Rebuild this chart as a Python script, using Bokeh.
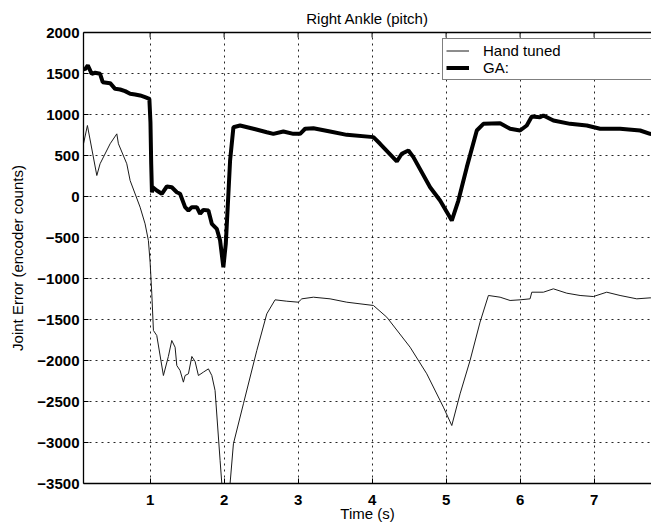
from bokeh.plotting import figure
from bokeh.models import Range1d, FixedTicker, LinearAxis, Legend, LegendItem
from bokeh.embed import file_html
from bokeh.resources import INLINE

# ---- data ----
ga_time = [0.10, 0.12, 0.158, 0.212, 0.257, 0.324, 0.36, 0.46, 0.527, 0.595, 0.662, 0.73, 0.797, 0.865,
           0.932, 0.99, 1.005, 1.015, 1.025, 1.036, 1.09, 1.158, 1.226, 1.293, 1.361, 1.405, 1.473, 1.518,
           1.564, 1.631, 1.676, 1.72, 1.788, 1.834, 1.901, 1.946, 1.99, 2.023, 2.058, 2.081, 2.126, 2.216,
           2.396, 2.577, 2.666, 2.801, 2.936, 3.027, 3.095, 3.207, 3.432, 3.658, 4.018, 4.108, 4.334, 4.401,
           4.491, 4.558, 4.784, 4.919, 5.077, 5.166, 5.28, 5.415, 5.504, 5.73, 5.865, 6.0, 6.09, 6.158,
           6.27, 6.315, 6.45, 6.676, 6.901, 7.081, 7.351, 7.622, 7.757, 7.9]
ga_error = [1560, 1550, 1598, 1496, 1509, 1496, 1394, 1382, 1313, 1305, 1285, 1252, 1244, 1232,
            1211, 1191, 900, 400, 50, 113, 73, 33, 122, 113, 52, 33, -130, -171,
            -130, -130, -211, -163, -171, -333, -394, -537, -862, -577, 33, 439, 845, 866,
            826, 784, 764, 793, 764, 764, 826, 833, 793, 752, 724, 643, 427, 521,
            561, 480, 113, -49, -293, -49, 358, 805, 886, 894, 826, 805, 866, 976,
            967, 988, 927, 886, 866, 826, 826, 805, 764, 750]

hand_time = [0.10, 0.153, 0.28, 0.324, 0.46, 0.55, 0.572, 0.685, 0.73, 0.865, 0.932, 0.977, 1.0, 1.023,
             1.045, 1.09, 1.18, 1.247, 1.293, 1.338, 1.361, 1.405, 1.45, 1.473, 1.518, 1.564, 1.608,
             1.653, 1.72, 1.788, 1.834, 1.878, 1.946, 1.969, 2.02, 2.081, 2.126, 2.261, 2.442, 2.577,
             2.689, 2.847, 3.004, 3.05, 3.207, 3.432, 3.658, 4.018, 4.199, 4.514, 4.739, 4.964, 5.077,
             5.189, 5.324, 5.459, 5.572, 5.73, 5.865, 6.0, 6.135, 6.158, 6.315, 6.45, 6.631, 6.811,
             6.99, 7.171, 7.351, 7.577, 7.757, 7.9]
hand_error = [643, 866, 256, 399, 643, 764, 643, 399, 195, -130, -333, -537, -800, -1187,
              -1634, -1695, -2183, -1951, -1756, -1838, -2061, -2122, -2264, -2183, -2162, -1951, -2012,
              -2183, -2142, -2102, -2183, -2366, -3220, -3500, -4100, -3500, -3016, -2528, -1878, -1431,
              -1260, -1277, -1289, -1248, -1228, -1248, -1289, -1329, -1472, -1838, -2162, -2569, -2793,
              -2407, -2000, -1532, -1207, -1228, -1268, -1260, -1248, -1167, -1167, -1126, -1179, -1207,
              -1220, -1167, -1207, -1248, -1236, -1240]

x_ticks = [1, 2, 3, 4, 5, 6, 7]
y_ticks = [-3500, -3000, -2500, -2000, -1500, -1000, -500, 0, 500, 1000, 1500, 2000]

title_text = "Right Ankle (pitch)"
x_label = "Time (s)"
y_label = "Joint Error (encoder counts)"
series_names = ["Hand tuned", "GA:"]

FONT = "Liberation Sans"
Y_MIN, Y_MAX = -3500, 2000

p = figure(width=651, height=526, output_backend="svg", toolbar_location=None,
           x_range=Range1d(0.1, 7.776), y_range=Range1d(Y_MIN, Y_MAX),
           min_border_left=83, min_border_right=0, min_border_top=32, min_border_bottom=43,
           title=title_text)
p.outline_line_color = None
p.background_fill_color = "white"
p.border_fill_color = "white"

p.title.align = "center"
p.title.offset = 6
p.title.text_font = FONT
p.title.text_font_size = "15px"
p.title.text_font_style = "normal"
p.title.text_color = "black"
p.title.standoff = 12

for ax in (p.xaxis[0], p.yaxis[0]):
    ax.axis_line_color = "black"
    ax.axis_line_width = 1.3
    ax.major_tick_in = 5
    ax.major_tick_out = 0
    ax.minor_tick_in = 0
    ax.minor_tick_out = 0
    ax.major_tick_line_color = "black"
    ax.major_label_text_font = FONT
    ax.major_label_text_font_size = "15px"
    ax.major_label_text_font_style = "bold"
    ax.major_label_text_color = "black"
    ax.axis_label_text_font = FONT
    ax.axis_label_text_font_size = "15px"
    ax.axis_label_text_font_style = "normal"
    ax.axis_label_text_color = "black"

p.xaxis[0].ticker = FixedTicker(ticks=x_ticks)
p.yaxis[0].ticker = FixedTicker(ticks=y_ticks)
p.xaxis[0].axis_label = x_label
p.yaxis[0].axis_label = y_label
p.xaxis[0].major_label_standoff = 11
p.xaxis[0].axis_label_standoff = -3
p.yaxis[0].major_label_standoff = 4
p.yaxis[0].axis_label_standoff = 8

# top frame line (no labels) plus inward tick marks derived from the x ticks
top = LinearAxis(ticker=FixedTicker(ticks=[]), major_label_standoff=0,
                 major_tick_in=0, major_tick_out=0, minor_tick_in=0, minor_tick_out=0,
                 axis_line_color="black", axis_line_width=1.3)
p.add_layout(top, "above")
tick_len = (Y_MAX - Y_MIN) * 5.0 / 451.0
p.segment(x0=x_ticks, y0=[Y_MAX] * len(x_ticks), x1=x_ticks,
          y1=[Y_MAX - tick_len] * len(x_ticks), line_color="black", line_width=1)

for g in (p.xgrid[0], p.ygrid[0]):
    g.grid_line_color = "black"
    g.grid_line_dash = "2 4"
    g.grid_line_width = 1
    g.grid_line_alpha = 0.85
p.xgrid[0].ticker = FixedTicker(ticks=x_ticks)
p.ygrid[0].ticker = FixedTicker(ticks=y_ticks)

r_hand = p.line(hand_time, hand_error, line_color="#1a1a1a", line_width=1)
r_ga = p.line(ga_time, ga_error, line_color="black", line_width=4)

legend = Legend(items=[LegendItem(label=series_names[0], renderers=[r_hand]),
                       LegendItem(label=series_names[1], renderers=[r_ga])],
                location=(359, 403), orientation="vertical")
legend.border_line_color = "black"
legend.border_line_width = 1
legend.background_fill_alpha = 1
legend.label_text_font = FONT
legend.label_text_font_size = "15px"
legend.label_text_color = "black"
legend.padding = 3
legend.spacing = 0
legend.margin = 0
legend.glyph_width = 23
legend.glyph_height = 11
legend.label_height = 11
legend.label_standoff = 14
legend.label_width = 220
p.add_layout(legend, "center")

open("out.html", "w").write(file_html(p, INLINE))
